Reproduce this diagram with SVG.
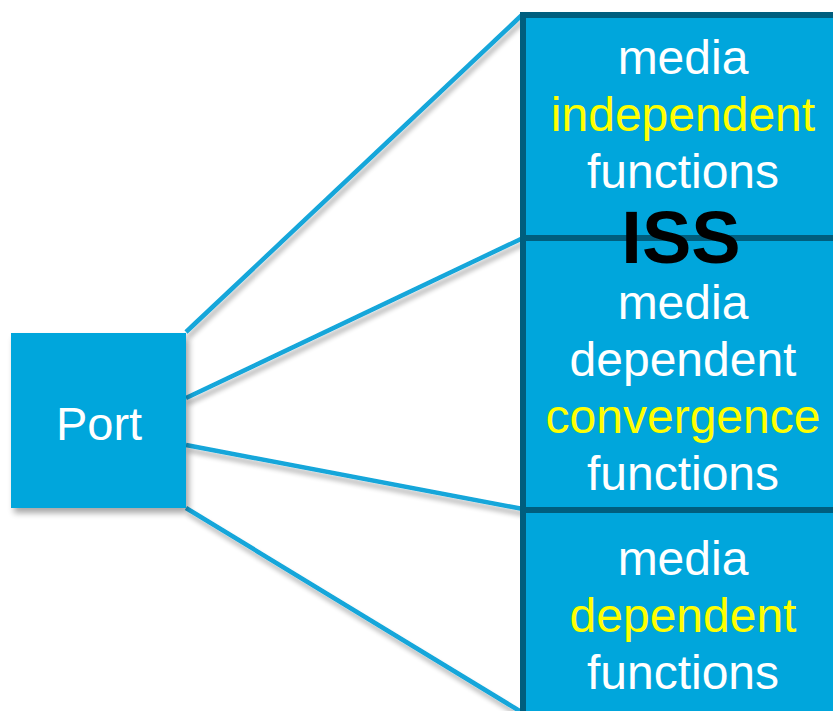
<svg xmlns="http://www.w3.org/2000/svg" width="833" height="711" viewBox="0 0 833 711">
  <defs>
    <filter id="shadow" x="-20%" y="-20%" width="140%" height="140%">
      <feGaussianBlur in="SourceAlpha" stdDeviation="3"/>
      <feOffset dx="3" dy="5" result="b"/>
      <feComponentTransfer><feFuncA type="linear" slope="0.35"/></feComponentTransfer>
      <feMerge><feMergeNode/><feMergeNode in="SourceGraphic"/></feMerge>
    </filter>
    <filter id="lineShadow" x="-10%" y="-10%" width="120%" height="130%">
      <feGaussianBlur in="SourceAlpha" stdDeviation="2.5"/>
      <feOffset dx="2" dy="5" result="b"/>
      <feComponentTransfer><feFuncA type="linear" slope="0.3"/></feComponentTransfer>
      <feMerge><feMergeNode/><feMergeNode in="SourceGraphic"/></feMerge>
    </filter>
    <style>
      .layer { fill: #00a6dc; stroke: #005e7e; stroke-width: 6; }
      .port { fill: #00a6dc; }
      .link { stroke: #12a6da; stroke-width: 4.5; fill: none; stroke-linecap: butt; }
      .t { font-family: "Liberation Sans", Arial, sans-serif; font-size: 48px; fill: #ffffff; text-anchor: middle; }
      .hl { fill: #ffff00; }
      .iss { font-family: "Liberation Sans", Arial, sans-serif; font-size: 74px; font-weight: bold; fill: #000000; text-anchor: middle; }
    </style>
  </defs>

  <!-- connectors from the port to the layer stack -->
  <g id="connectors" filter="url(#lineShadow)">
    <line class="link" x1="186" y1="332" x2="523" y2="14"/>
    <line class="link" x1="186" y1="398" x2="523" y2="238"/>
    <line class="link" x1="186" y1="445" x2="523" y2="509"/>
    <line class="link" x1="186" y1="508" x2="523" y2="713"/>
  </g>

  <!-- port -->
  <g id="port">
    <rect class="port" x="11" y="333" width="175" height="175" filter="url(#shadow)"/>
    <text class="t" x="99" y="440" style="font-size:47px">Port</text>
  </g>

  <!-- layer stack, bottom first -->
  <g id="media-dependent">
    <rect class="layer" x="523" y="510" width="330" height="220"/>
    <text class="t" x="683" y="575">media</text>
    <text class="t hl" x="683" y="632">dependent</text>
    <text class="t" x="683" y="689">functions</text>
  </g>

  <g id="media-dependent-convergence">
    <rect class="layer" x="523" y="238" width="330" height="272"/>
    <text class="t" x="683" y="319">media</text>
    <text class="t" x="683" y="376">dependent</text>
    <text class="t hl" x="683" y="433">convergence</text>
    <text class="t" x="683" y="490">functions</text>
  </g>

  <g id="media-independent">
    <rect class="layer" x="523" y="15" width="330" height="223"/>
    <text class="t" x="683" y="74">media</text>
    <text class="t hl" x="683" y="131">independent</text>
    <text class="t" x="683" y="188">functions</text>
  </g>

  <!-- service interface label on the boundary -->
  <g id="iss">
    <text class="iss" x="681" y="263">ISS</text>
  </g>
</svg>
